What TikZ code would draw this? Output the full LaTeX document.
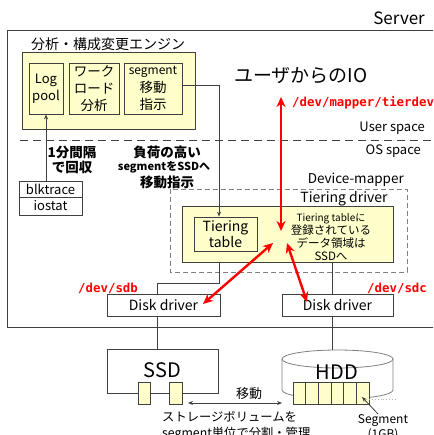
\documentclass[tikz,border=0pt]{standalone}
\usepackage{fontspec}
\setmainfont{Noto Sans CJK JP}
\newfontfamily\redmono{DejaVu Sans Mono}
\usetikzlibrary{arrows.meta}
\definecolor{pale}{HTML}{FFFFCC}
\definecolor{ln}{HTML}{404040}
\tikzset{
  ln/.style={draw=ln, line width=0.8pt},
  ybox/.style={ln, fill=pale, inner sep=0pt},
  wbox/.style={ln, fill=white, inner sep=0pt},
  fs/.code={\pgfmathsetmacro\fsb{#1*1.28}\edef\fsx{\noexpand\fontsize{#1}{\fsb}\noexpand\selectfont}\pgfkeysalso{font/.expand once=\fsx}},
  lbl/.style={inner sep=0pt},
  arr/.style={ln, -{Stealth[length=5pt,width=4pt]}},
  darr/.style={ln, {Stealth[length=5pt,width=4pt]}-{Stealth[length=5pt,width=4pt]}},
  redarr/.style={draw=red, line width=2.4pt, {Stealth[length=10pt,width=9pt]}-{Stealth[length=10pt,width=9pt]}},
  redtxt/.style={text=red, font=\redmono\fontsize{12.4}{15}\selectfont\bfseries, inner sep=0pt}
}
\begin{document}
\begin{tikzpicture}[x=1pt,y=-1pt]
\useasboundingbox (0,0) rectangle (433,435);
\clip (0,0) rectangle (433,435);
\fill[white] (0,0) rectangle (433,435);

% Server frame
\draw[ln] (7,30) rectangle (460,327);
\node[lbl, fs=17, anchor=east] (server) at (425,18) {Server};

% user/os divider
\draw[ln, dash pattern=on 8pt off 5pt] (20,140) -- (440,140);
\node[lbl, fs=13, anchor=east] (user) at (425,128) {User space};
\node[lbl, fs=13, anchor=east] (os) at (421,151) {OS space};

% engine
\node[lbl, fs=14] (engt) at (108,44) {分析・構成変更エンジン};
\node[ybox, minimum width=173pt, minimum height=77pt] (eng) at (108.5,90.5) {};
\node[ybox, minimum width=34pt, minimum height=51pt, align=center, fs=13] (logp) at (46,88.5) {Log\\pool};
\node[ybox, minimum width=50pt, minimum height=51pt, align=center, fs=13.5] (wl) at (94,88.5) {ワーク\\ロード\\分析};
\node[ybox, minimum width=58pt, minimum height=51pt, align=center, fs=13.5] (segm) at (153,88.5) {{\fontsize{12}{14}\selectfont segment}\\移動\\指示};

% blktrace / iostat
\node[wbox, minimum width=63pt, minimum height=16pt, fs=13] (blk) at (50.5,189) {blktrace};
\node[wbox, minimum width=63pt, minimum height=18pt, fs=13] (ios) at (50.5,206) {iostat};
\draw[arr] (blk.north -| logp.south) -- (logp.south);
\node[lbl, align=center, font=\fontsize{13.5}{15.5}\selectfont\bfseries] (every) at (72,160) {1分間隔\\で回収};
\node[lbl, align=center, font=\fontsize{13.5}{15}\selectfont\bfseries] (hi) at (167,152) {負荷の高い};
\node[lbl, align=center, font=\fontsize{11}{13}\selectfont\bfseries] (hi2) at (164,167) {segmentをSSDへ};
\node[lbl, align=center, font=\fontsize{13.5}{15}\selectfont\bfseries] (hi3) at (167,182) {移動指示};

% IO label
\node[lbl, fs=19] (io) at (301,76) {ユーザからのIO};
\node[redtxt, anchor=west] (mapper) at (292,103) {/dev/mapper/tierdev};

% device mapper
\draw[draw=gray, line width=0.8pt, dash pattern=on 5pt off 3pt] (170,189) rectangle (407,272);
\node[lbl, fs=13.5, anchor=east] (dm) at (404,180) {Device-mapper};
\node[lbl, fs=14] (tdl) at (344,199) {Tiering driver};
\node[ybox, minimum width=211pt, minimum height=56pt] (tdrv) at (287.5,234) {};
\node[ybox, minimum width=63pt, minimum height=34pt, align=center, font=\fontsize{14}{16}\selectfont] (ttab) at (225.5,234) {Tiering\\table};
\node[lbl, align=center, font=\fontsize{11.5}{13}\selectfont] (ttxt) at (331,237)
  {{\fontsize{10}{13}\selectfont Tiering tableに}\\登録されている\\データ領域は\\SSDへ};
\draw[arr] ([yshift=3.5pt]segm.east) -| ([xshift=-6.5pt]ttab.north);

% disk drivers
\node[wbox, minimum width=113pt, minimum height=22pt, fs=14] (ddl) at (163.5,305) {Disk driver};
\node[wbox, minimum width=111pt, minimum height=22pt, fs=14] (ddr) at (337.5,305) {Disk driver};
\node[redtxt, anchor=west] (sdb) at (78,288) {/dev/sdb};
\node[redtxt, anchor=west] (sdc) at (367,288) {/dev/sdc};
\draw[ln] ([xshift=-68.5pt]tdrv.south) -- ++(0,21) -| ([xshift=-6.5pt]ddl.north);
\draw[ln] ([xshift=-5.5pt]ddr.north) -- ([xshift=-5.5pt]ddr.north |- tdrv.south);

% red IO arrows
\coordinate (iotop) at (281,97);
\coordinate (iobot) at (281,231);
\coordinate (hubl) at (273,243);
\coordinate (hubr) at (287,243);
\coordinate (sdbpt) at (203,304);
\coordinate (sdcpt) at (307,302);
\draw[redarr] (iotop) -- (iobot);
\draw[redarr] (hubl) -- (sdbpt);
\draw[redarr] (hubr) -- (sdcpt);

% SSD
\node[wbox, minimum width=111pt, minimum height=44pt] (ssd) at (162.5,371) {};
\node[lbl, fs=20] (ssdl) at (162.5,370) {SSD};
\draw[ln] ([xshift=-6.5pt]ddl.south) -- ([xshift=-6.5pt]ddl.south |- ssd.north);
\node[ybox, minimum width=12pt, minimum height=22pt] (s1) at (144,393) {};
\node[ybox, minimum width=13pt, minimum height=22pt] (s2) at (175.5,393) {};

% HDD cylinder
\draw[draw=gray, fill=white, line width=0.8pt] (282,359) -- (282,390) arc[start angle=180, end angle=0, x radius=55.5, y radius=9] -- (393,359);
\draw[draw=gray, fill=white, line width=0.8pt] (337.5,359) ellipse [x radius=55.5, y radius=9];
\node[lbl, fs=20] (hdd) at (337,372) {HDD};
\draw[ln] ([xshift=-5.5pt]ddr.south) -- (332,350);
\foreach \i in {0,...,5} {
  \node[ybox, minimum width=12.67pt, minimum height=22pt] (h\i) at ({299.3+12.67*\i},393) {};
}
\draw[draw=gray!60, line width=0.8pt, dotted] (h5.east |- 0,399) -- (397,399);
\node[lbl, fs=12, align=center] (segl) at (383,428) {Segment\\(1GB)};
\coordinate (segp) at (378,414);
\draw[arr] (segp) -- (362,397);

% move
\node[lbl, fs=13] (mv) at (249,394) {移動};
\coordinate (mvl) at (188,403);
\coordinate (mvr) at (282,403);
\draw[darr] (mvl) -- (mvr);
\node[lbl, fs=12.3, align=left, anchor=north west] (stor) at (162,411) {ストレージボリュームを\\segment単位で分割・管理};
\end{tikzpicture}
\end{document}
